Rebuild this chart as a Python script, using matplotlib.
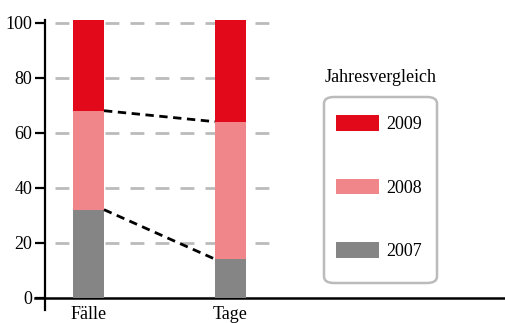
import matplotlib
matplotlib.use("Agg")
import matplotlib.pyplot as plt
from matplotlib.patches import Patch, FancyBboxPatch

categories = ["Fälle", "Tage"]
years = ["2007", "2008", "2009"]
v2007 = [32, 14]
v2008 = [36, 50]
v2009 = [33, 37]
yticks = [0, 20, 40, 60, 80, 100]

colors = {"2007": "#858585", "2008": "#F0868A", "2009": "#E20A1A"}

plt.rcParams['font.family'] = ['Liberation Serif', 'DejaVu Serif']

fig = plt.figure(figsize=(5.05, 3.23), dpi=100)
ax = fig.add_axes([35/505, 13/323, 470/505, 290/323])

x = list(range(len(categories)))
w = 0.218
series = [v2007, v2008, v2009]
bottoms = [0]*len(categories)
tops = []
for yr, vals in zip(years, series):
    ax.bar(x, vals, width=w, bottom=bottoms, color=colors[yr], zorder=3, clip_on=False)
    bottoms = [b+v for b, v in zip(bottoms, vals)]
    tops.append(list(bottoms))

# dashed connectors between segment tops
for t in tops[:2]:
    ax.plot([x[0]+w/2, x[1]-w/2], [t[0], t[1]], color='black', lw=2.0,
            dashes=(3, 2), zorder=4)

# grid lines
for yv in yticks[1:]:
    ax.plot([-0.236, 1.335], [yv, yv], color='#BBBBBB', lw=2.0, dashes=(5, 4),
            zorder=1, solid_capstyle='butt')

ax.set_xlim(-0.377, 2.933)
ax.set_ylim(-4.5, 101.0)
ax.spines['top'].set_visible(False)
ax.spines['right'].set_visible(False)
ax.spines['left'].set_position(('data', -0.306))
ax.spines['bottom'].set_position(('data', 0))
ax.spines['left'].set_linewidth(1.6)
ax.spines['bottom'].set_linewidth(1.8)
ax.set_yticks(yticks)
ax.set_yticklabels([str(v) for v in yticks])
ax.tick_params(axis='y', length=7, width=1.6, labelsize=13, pad=2)
ax.set_xticks(x)
ax.set_xticklabels(categories)
ax.tick_params(axis='x', length=0, labelsize=13, pad=6)

# legend frame
W, H = 505, 323
frame = FancyBboxPatch((324/W, 1-283/H), 113/W, 186/H,
                       boxstyle="round,pad=0,rounding_size=0.02",
                       transform=fig.transFigure, facecolor='white',
                       edgecolor='#BBBBBB', linewidth=1.8, zorder=5)
fig.patches.append(frame)

handles = [Patch(facecolor=colors[yr], label=yr) for yr in reversed(years)]
leg = fig.legend(handles=handles, loc='upper left',
                 bbox_to_anchor=(336/W, 1-115/H),
                 frameon=False, fontsize=13, handlelength=2.4, handleheight=0.95,
                 handletextpad=0.4, labelspacing=2.53, borderpad=0,
                 borderaxespad=0)
leg.set_zorder(6)
fig.text(381/W, 1-78/H, "Jahresvergleich", ha='center', va='center', fontsize=13)

fig.savefig("out.png", dpi=100)
